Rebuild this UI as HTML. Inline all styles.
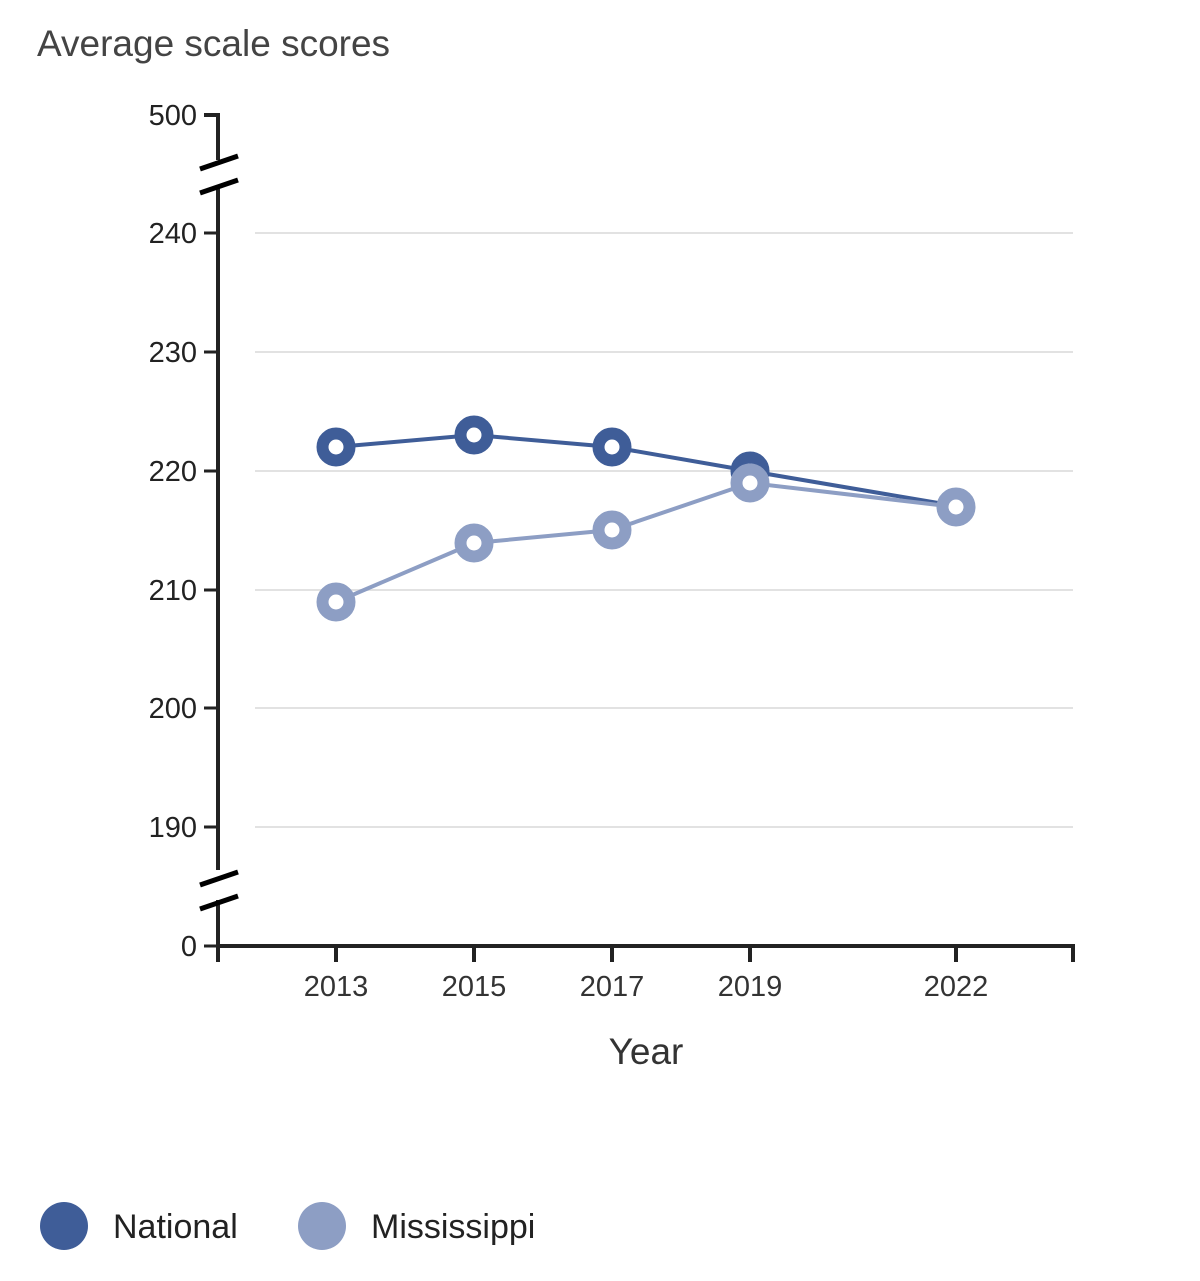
<!DOCTYPE html><html><head><style>body{margin:0;background:#fff}svg{display:block}text{font-family:"Liberation Sans",sans-serif}</style></head><body>
<svg width="1200" height="1281" viewBox="0 0 1200 1281">
<text x="37" y="56" font-size="37" fill="#444">Average scale scores</text>
<g stroke="#e2e2e2" stroke-width="2">
<line x1="255" y1="233" x2="1073" y2="233"/><line x1="255" y1="352" x2="1073" y2="352"/><line x1="255" y1="471" x2="1073" y2="471"/><line x1="255" y1="590" x2="1073" y2="590"/><line x1="255" y1="708" x2="1073" y2="708"/><line x1="255" y1="827" x2="1073" y2="827"/></g>
<g stroke="#222" stroke-width="4" fill="none">
<polyline points="204,115 218,115 218,160"/>
<line x1="218" y1="188" x2="218" y2="870"/>
<line x1="218" y1="900" x2="218" y2="946"/>
<line x1="216" y1="946" x2="1075" y2="946"/>
<line x1="218" y1="946" x2="218" y2="962"/><line x1="1073" y1="946" x2="1073" y2="962"/>
<line x1="336" y1="946" x2="336" y2="962"/><line x1="474" y1="946" x2="474" y2="962"/><line x1="612" y1="946" x2="612" y2="962"/><line x1="750" y1="946" x2="750" y2="962"/><line x1="956" y1="946" x2="956" y2="962"/>
<g stroke-width="3"><line x1="204" y1="233" x2="218" y2="233"/><line x1="204" y1="352" x2="218" y2="352"/><line x1="204" y1="471" x2="218" y2="471"/><line x1="204" y1="590" x2="218" y2="590"/><line x1="204" y1="708" x2="218" y2="708"/><line x1="204" y1="827" x2="218" y2="827"/><line x1="204" y1="946" x2="218" y2="946"/></g>
<g stroke="#000" stroke-width="5"><line x1="200" y1="169" x2="238" y2="156"/><line x1="200" y1="193" x2="238" y2="180"/><line x1="200" y1="909" x2="238" y2="896"/><line x1="200" y1="885" x2="238" y2="872"/></g>
</g>
<g font-size="29" fill="#222" text-anchor="end">
<text x="197" y="125">500</text><text x="197" y="243">240</text><text x="197" y="362">230</text><text x="197" y="481">220</text><text x="197" y="600">210</text><text x="197" y="718">200</text><text x="197" y="837">190</text><text x="197" y="956">0</text></g>
<g font-size="29" fill="#333" text-anchor="middle">
<text x="336" y="996">2013</text><text x="474" y="996">2015</text><text x="612" y="996">2017</text><text x="750" y="996">2019</text><text x="956" y="996">2022</text>
<text x="646" y="1064" font-size="37">Year</text></g>
<polyline points="336,447 474,435 612,447 750,471 956,506" fill="none" stroke="#3f5d98" stroke-width="4"/>
<g fill="#fff" stroke="#3f5d98" stroke-width="12"><circle cx="336" cy="447" r="13.5"/><circle cx="474" cy="435" r="13.5"/><circle cx="612" cy="447" r="13.5"/><circle cx="750" cy="471" r="13.5"/></g>
<polyline points="336,602 474,543 612,530 750,483 956,507" fill="none" stroke="#8d9ec4" stroke-width="4"/>
<g fill="#fff" stroke="#8d9ec4" stroke-width="12"><circle cx="336" cy="602" r="13.5"/><circle cx="474" cy="543" r="13.5"/><circle cx="612" cy="530" r="13.5"/><circle cx="750" cy="483" r="13.5"/><circle cx="956" cy="507" r="13.5"/></g>
<circle cx="64" cy="1226" r="24" fill="#3f5d98"/><text x="113" y="1238" font-size="34" fill="#222">National</text>
<circle cx="322" cy="1226" r="24" fill="#8d9ec4"/><text x="371" y="1238" font-size="34" fill="#222">Mississippi</text>
</svg></body></html>
